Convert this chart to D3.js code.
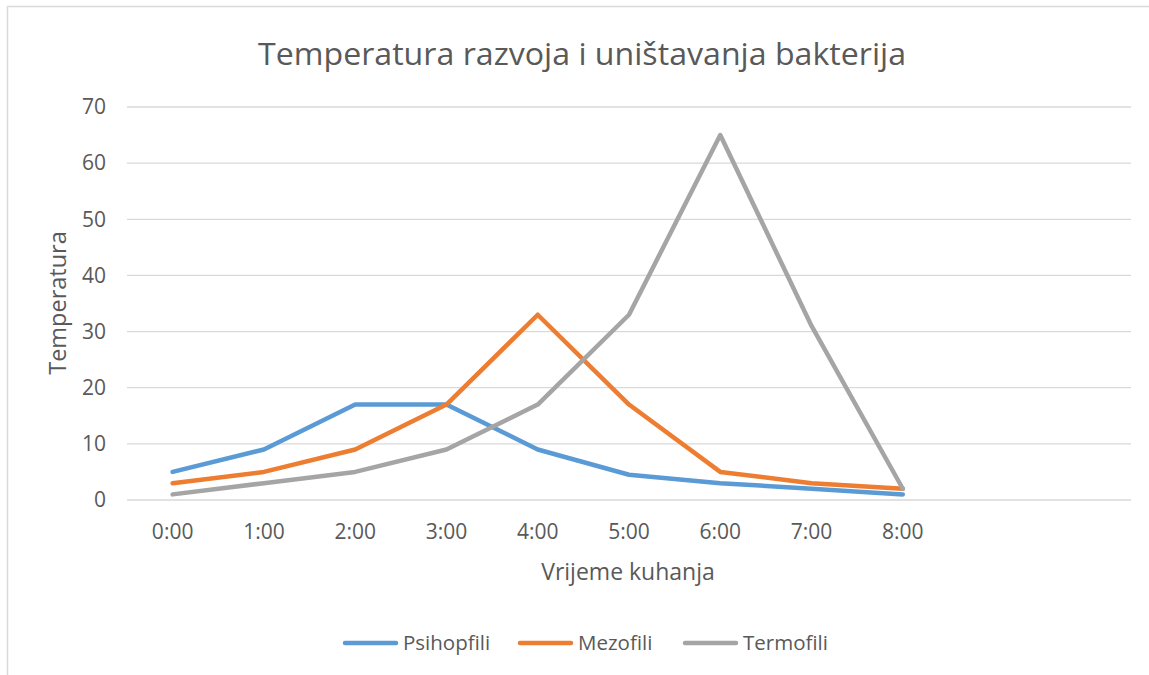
<!DOCTYPE html>
<html><head><meta charset="utf-8">
<script src="https://cdnjs.cloudflare.com/ajax/libs/d3/7.8.5/d3.min.js"></script>
<style>body{margin:0;background:#fff;} svg{display:block;} text{font-family:"Open Sans","Liberation Sans",sans-serif;fill:#595959;}</style>
</head><body><svg id="c" width="1149" height="675"></svg>
<script>
const categories = ["0:00","1:00","2:00","3:00","4:00","5:00","6:00","7:00","8:00","",""];
const psihopfili = [5, 9, 17, 17, 9, 4.5, 3, 2, 1];
const mezofili = [3, 5, 9, 17, 33, 17, 5, 3, 2];
const termofili = [1, 3, 5, 9, 17, 33, 65, 31, 2];
const yTicks = [0,10,20,30,40,50,60,70];
const seriesNames = ["Psihopfili","Mezofili","Termofili"];
const colors = ["#5B9BD5","#ED7D31","#A5A5A5"];

const svg = d3.select("#c");
// outer frame
svg.append("path").attr("d","M7.5,675 L7.5,6.5 L1149,6.5").attr("fill","none").attr("stroke","#d9d9d9").attr("stroke-width",1.5);

const x = d3.scaleBand().domain(categories.map((c,i)=>i)).range([127,1131]);
const y = d3.scaleLinear().domain([0,70]).range([500,107]);

// gridlines
svg.append("g").selectAll("line").data(yTicks).join("line")
  .attr("x1",127).attr("x2",1131).attr("y1",d=>y(d)).attr("y2",d=>y(d))
  .attr("stroke","#d9d9d9").attr("stroke-width",1.3);

// y axis labels
const yAxis = svg.append("g").attr("transform","translate(106,0)")
  .call(d3.axisLeft(y).tickValues(yTicks).tickSize(0).tickPadding(0));
yAxis.select(".domain").remove();
yAxis.selectAll("text").attr("font-size",21).attr("fill","#595959").style("font-family","'Open Sans',sans-serif");

// x axis labels
const xAxis = svg.append("g").attr("transform","translate(0,524)")
  .call(d3.axisBottom(x).tickFormat(i=>categories[i]).tickSize(0).tickPadding(0));
xAxis.select(".domain").remove();
xAxis.selectAll("text").attr("font-size",21).attr("fill","#595959").style("font-family","'Open Sans',sans-serif");

const line = d3.line().x((d,i)=>x(i)+x.bandwidth()/2).y(d=>y(d));
[psihopfili, mezofili, termofili].forEach((s,k)=>{
  svg.append("path").datum(s).attr("d",line).attr("fill","none")
    .attr("stroke",colors[k]).attr("stroke-width",4.5)
    .attr("stroke-linejoin","round").attr("stroke-linecap","round");
});

// title
svg.append("text").attr("x",582).attr("y",65).attr("text-anchor","middle")
  .attr("font-size",31).attr("textLength",648).attr("lengthAdjust","spacingAndGlyphs")
  .text("Temperatura razvoja i uništavanja bakterija");

// axis titles
svg.append("text").attr("x",628).attr("y",580).attr("text-anchor","middle").attr("font-size",23)
  .text("Vrijeme kuhanja");
svg.append("text").attr("transform","translate(66,303) rotate(-90)").attr("text-anchor","middle").attr("font-size",23.5)
  .text("Temperatura");

// legend
const legX = [343,518,683];
const lg = svg.append("g");
seriesNames.forEach((n,k)=>{
  lg.append("line").attr("x1",legX[k]+2).attr("x2",legX[k]+53).attr("y1",643).attr("y2",643)
    .attr("stroke",colors[k]).attr("stroke-width",4.5).attr("stroke-linecap","round");
  lg.append("text").attr("x",legX[k]+60).attr("y",650).attr("font-size",20.5).text(n);
});
</script></body></html>
